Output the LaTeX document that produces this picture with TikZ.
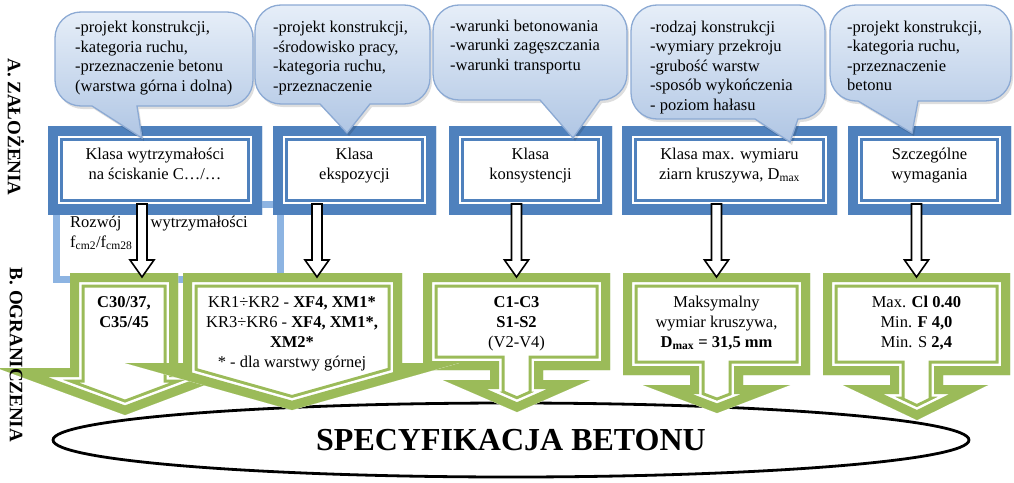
\documentclass[tikz,border=0pt]{standalone}
\usepackage{fontspec}
\setmainfont{Liberation Serif}
\usetikzlibrary{shapes.geometric}
\definecolor{bdark}{RGB}{79,129,189}
\definecolor{gacc}{RGB}{155,187,89}
\definecolor{lblue}{RGB}{141,180,226}
\definecolor{cbord}{RGB}{140,170,212}
\definecolor{ctop}{RGB}{230,238,248}
\definecolor{cbot}{RGB}{176,198,228}

\newcommand{\dframe}[5]{%
  \fill[white] #1;
  \begin{scope}
    \clip #1;
    \draw[#2, line width=#3pt, line join=miter] #1;
    \draw[white, line width=#4pt, line join=miter] #1;
    \draw[#2, line width=#5pt, line join=miter] #1;
  \end{scope}}

\newcommand{\callout}[8]{%
  \fill[black, opacity=0.13, shift={(2,3)}] (#6,#4) -- ({#3-26},#4) .. controls ({#3-11.6},#4) and (#3,{#4-11.6}) .. (#3,{#4-26}) -- (#3,{#2+26}) .. controls (#3,{#2+11.6}) and ({#3-11.6},#2) .. ({#3-26},#2) -- ({#1+26},#2) .. controls ({#1+11.6},#2) and (#1,{#2+11.6}) .. (#1,{#2+26}) -- (#1,{#4-26}) .. controls (#1,{#4-11.6}) and ({#1+11.6},#4) .. ({#1+26},#4) -- (#5,#4) -- (#7,#8) -- cycle;
  \shade[draw=cbord, line width=1.3pt, top color=ctop, bottom color=cbot] (#6,#4) -- ({#3-26},#4) .. controls ({#3-11.6},#4) and (#3,{#4-11.6}) .. (#3,{#4-26}) -- (#3,{#2+26}) .. controls (#3,{#2+11.6}) and ({#3-11.6},#2) .. ({#3-26},#2) -- ({#1+26},#2) .. controls ({#1+11.6},#2) and (#1,{#2+11.6}) .. (#1,{#2+26}) -- (#1,{#4-26}) .. controls (#1,{#4-11.6}) and ({#1+11.6},#4) .. ({#1+26},#4) -- (#5,#4) -- (#7,#8) -- cycle;}

\newcommand{\darrow}[1]{\draw[blockarrow] ({#1-5},204) -- ({#1+5},204) -- ({#1+5},260) -- ({#1+12},260) -- (#1,277) -- ({#1-12},260) -- ({#1-5},260) -- cycle;}

\begin{document}
\begin{tikzpicture}[x=1pt,y=-1pt,
  ctext/.style={font=\fontsize{16.5}{19.5}\selectfont, align=left, inner sep=0pt, anchor=base west},
  btext/.style={font=\fontsize{16.5}{20}\selectfont, align=center, inner sep=0pt, anchor=base},
  vlab/.style={font=\fontsize{19}{22}\selectfont\bfseries, rotate=-90, inner sep=0pt},
  plain/.style={font=\fontsize{16.5}{20}\selectfont, inner sep=0pt},
  blockarrow/.style={draw=black, line width=1.6pt, fill=white, line join=miter}]
\useasboundingbox (0,0) rectangle (1014,482);
\fill[white] (0,0) rectangle (1014,482);

% bottom ellipse
\node[ellipse, draw=black, line width=2.8pt, minimum width=916pt, minimum height=74pt, inner sep=0pt,
      font=\fontsize{32}{38}\selectfont\bfseries] (spec) at (511,440) {SPECYFIKACJA BETONU};

% light blue frame
\draw[lblue, line width=7pt] (56,204) rectangle (280,279);

% blue boxes
\dframe{(48,126) rectangle (262,214)}{bdark}{30}{24}{20}
\dframe{(273,126) rectangle (436,214)}{bdark}{30}{24}{20}
\dframe{(449,126) rectangle (612,214)}{bdark}{30}{24}{20}
\dframe{(622,126) rectangle (837,214)}{bdark}{30}{24}{20}
\dframe{(848,126) rectangle (1011,214)}{bdark}{30}{24}{20}

% callouts
\callout{55}{12}{253}{106}{92}{137}{142}{138}
\callout{255}{5}{430}{104}{320}{370}{347}{133}
\callout{433}{5}{627}{100}{540}{600}{573}{138}
\callout{631}{5}{825}{119}{755}{798}{790}{142}
\callout{830}{5}{1011}{101}{858}{918}{912}{133}

% green arrow callouts
\dframe{(423,273) -- (610,273) -- (610,370) -- (543,370) -- (543,380) -- (590,380) -- (517,412) -- (443,380) -- (490,380) -- (490,370) -- (423,370) -- cycle}{gacc}{29}{23}{18}
\dframe{(70,273) -- (178,273) -- (178,368) -- (250,368) -- (125,415) -- (-3,368) -- (70,368) -- cycle}{gacc}{29}{23}{18}
\dframe{(183,273) -- (402,273) -- (402,363) -- (459,363) -- (292,410) -- (125,363) -- (183,363) -- cycle}{gacc}{29}{23}{18}
\dframe{(623,273) -- (810,273) -- (810,375) -- (743,375) -- (743,385) -- (790,385) -- (717,413) -- (643,385) -- (690,385) -- (690,375) -- (623,375) -- cycle}{gacc}{29}{23}{18}
\dframe{(823,273) -- (1010,273) -- (1010,375) -- (943,375) -- (943,385) -- (988,385) -- (917,420) -- (843,385) -- (890,385) -- (890,375) -- (823,375) -- cycle}{gacc}{29}{23}{18}

% block arrows
\darrow{142}
\darrow{317}
\darrow{516.5}
\darrow{716.5}
\darrow{916.5}

% side labels
\node[vlab] (la) at (16,127) {A. ZAŁOŻENIA};
\node[vlab] (lb) at (16,355) {B. OGRANICZENIA};

% callout texts (anchored at the baseline of the last line)
\node[ctext] (c1) at (75,91) {-projekt konstrukcji,\\-kategoria ruchu,\\-przeznaczenie betonu\\(warstwa górna i dolna)};
\node[ctext] (c2) at (273,91) {-projekt konstrukcji,\\-środowisko pracy,\\-kategoria ruchu,\\-przeznaczenie};
\node[ctext] (c3) at (450,70) {-warunki betonowania\\-warunki zagęszczania\\-warunki transportu};
\node[ctext] (c4) at (650,110) {-rodzaj konstrukcji\\-wymiary przekroju\\-grubość warstw\\-sposób wykończenia\\- poziom hałasu};
\node[ctext] (c5) at (847,90.5) {-projekt konstrukcji,\\-kategoria ruchu,\\-przeznaczenie\\betonu};

% blue box texts
\node[btext] (b1) at (155,179) {Klasa wytrzymałości\\na ściskanie C…/…};
\node[btext] (b2) at (354.5,179) {Klasa\\ekspozycji};
\node[btext] (b3) at (530.5,179) {Klasa\\konsystencji};
\node[btext] (b4) at (729.5,179) {Klasa max. wymiaru\\ziarn kruszywa, D\textsubscript{max}};
\node[btext] (b5) at (929.5,179) {Szczególne\\wymagania};

% development text
\node[plain, anchor=base west] (rz1) at (70,227) {Rozwój};
\node[plain, anchor=base east] (rz2) at (248,227) {wytrzymałości};
\node[plain, anchor=base west] (rz3) at (70,247) {f\textsubscript{cm2}/f\textsubscript{cm28}};

% green texts
\node[btext] (g1) at (124,327) {\textbf{C30/37,}\\\textbf{C35/45}};
\node[btext] (g2) at (292,367) {KR1÷KR2 - \textbf{XF4, XM1*}\\KR3÷KR6 - \textbf{XF4, XM1*,}\\\textbf{XM2*}\\* - dla warstwy górnej};
\node[btext] (g3) at (516.5,347) {\textbf{C1-C3}\\\textbf{S1-S2}\\(V2-V4)};
\node[btext] (g4) at (716.5,347) {Maksymalny\\wymiar kruszywa,\\\textbf{D\textsubscript{max} = 31,5 mm}};
\node[btext] (g5) at (916.5,347) {Max. \textbf{Cl 0.40}\\Min. \textbf{F 4,0}\\Min. S \textbf{2,4}};
\end{tikzpicture}
\end{document}
